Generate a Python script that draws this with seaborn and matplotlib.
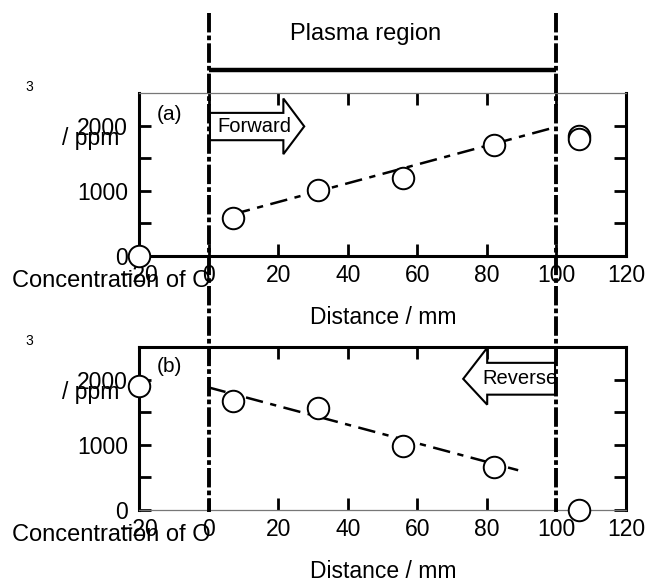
import matplotlib
matplotlib.use("Agg")
import matplotlib.pyplot as plt
import matplotlib.transforms as mtrans
from matplotlib.patches import Polygon
from matplotlib.lines import Line2D
import seaborn as sns

# ---------------- data ----------------
distance_fwd = [-20, 7, 31.5, 56, 82, 106.5, 106.5]
conc_fwd = [0, 580, 1010, 1190, 1700, 1845, 1795]
distance_rev = [-20, 7, 31.5, 56, 82, 106.5]
conc_rev = [1900, 1670, 1560, 975, 665, 0]
fit_fwd_x = [7, 100]
fit_fwd_y = [640, 1980]
fit_rev_x = [0, 89]
fit_rev_y = [1880, 610]
x_ticks = [-20, 0, 20, 40, 60, 80, 100, 120]
y_ticks = [0, 1000, 2000]
y_minor = [500, 1500]
plasma_start, plasma_end = 0, 100

sns.set_theme(style="ticks")
plt.rcParams['font.family'] = ['Liberation Sans', 'DejaVu Sans']
plt.rcParams['text.color'] = 'black'
plt.rcParams['xtick.color'] = 'black'
plt.rcParams['ytick.color'] = 'black'
plt.rcParams['xtick.labelcolor'] = 'black'
plt.rcParams['ytick.labelcolor'] = 'black'

W, H = 647, 583
fig = plt.figure(figsize=(W / 100, H / 100), dpi=100)
ax1 = fig.add_axes([139 / W, 1 - 256 / H, 487 / W, 163 / H])
ax2 = fig.add_axes([139 / W, 1 - 510 / H, 487 / W, 163 / H])


def style(ax, thin_side):
    ax.set_xlim(-20, 120)
    ax.set_ylim(0, 2500)
    ax.set_xticks(x_ticks)
    ax.set_yticks(y_ticks)
    ax.set_yticks(y_minor, minor=True)
    ax.tick_params(axis='both', which='both', direction='in', length=8.5,
                   width=2, top=True, right=True, colors='black',
                   labelcolor='black', labelsize=16.5)
    ax.tick_params(axis='x', pad=6)
    ax.tick_params(axis='y', pad=8)
    for s in ax.spines.values():
        s.set_linewidth(2.2)
        s.set_color('black')
    ax.spines[thin_side].set_linewidth(0.9)
    ax.spines[thin_side].set_color('#777777')
    ax.set_xlabel('')
    ax.set_ylabel('')
    ax.grid(False)
    ax.set_facecolor('none')
    for t in ax.xaxis.get_major_ticks():
        if t.get_loc() == 20:
            t.tick1line.set_markeredgewidth(0.9)
            t.tick2line.set_markeredgewidth(0.9)


style(ax1, 'top')
style(ax2, 'bottom')

dash_fit = (0, (7, 3, 2.5, 3))
for ax, fx, fy, px, py in [(ax1, fit_fwd_x, fit_fwd_y, distance_fwd, conc_fwd),
                           (ax2, fit_rev_x, fit_rev_y, distance_rev, conc_rev)]:
    sns.lineplot(x=fx, y=fy, ax=ax, color='black', lw=1.8,
                 linestyle=dash_fit, zorder=3)
    sns.scatterplot(x=px, y=py, ax=ax, s=240, marker='o', color='white',
                    edgecolor='black', linewidth=1.4, clip_on=False, zorder=6)

# panel letters
ax1.text(-14.8, 2175, '(a)', fontsize=15, ha='left', va='center')
ax2.text(-14.8, 2200, '(b)', fontsize=15, ha='left', va='center')

# arrows
fwd = Polygon([[0.4, 1776], [21.5, 1776], [21.5, 1562], [27.5, 1988],
               [21.5, 2415], [21.5, 2195], [0.4, 2195]], closed=True,
              facecolor='white', edgecolor='black', lw=1.5, zorder=4,
              clip_on=False)
ax1.add_patch(fwd)
ax1.text(13.3, 1990, 'Forward', fontsize=14.5, ha='center', va='center', zorder=5)

rev = Polygon([[99.6, 1769], [80.1, 1769], [80.1, 1615], [73.2, 2011],
               [80.1, 2488], [80.1, 2257], [99.6, 2257]], closed=True,
              facecolor='white', edgecolor='black', lw=1.5, zorder=4,
              clip_on=False)
ax2.add_patch(rev)
ax2.text(89.5, 2010, 'Reverse', fontsize=14.5, ha='center', va='center', zorder=5)

# plasma region markers spanning the figure
blend = mtrans.blended_transform_factory(ax1.transData, fig.transFigure)
for xv in [plasma_start, plasma_end]:
    fig.add_artist(Line2D([xv, xv], [1 - 13 / H, 1 - 512 / H], transform=blend,
                          color='black', lw=2.8, linestyle=(0, (5, 0.8, 1.2, 0.8)),
                          zorder=7))
fig.add_artist(Line2D([plasma_start, plasma_end], [1 - 70 / H, 1 - 70 / H],
                      transform=blend, color='black', lw=3.2,
                      solid_capstyle='butt', zorder=7))
fig.text(366 / W, 1 - 34 / H, 'Plasma region', fontsize=17,
         ha='center', va='center')

# axis labels (split pieces as in the original)
for top_px in [0, 254]:
    fig.text(383 / W, 1 - (top_px + 318) / H, 'Distance / mm', fontsize=16.5,
             ha='center', va='center')
    fig.text(12 / W, 1 - (top_px + 281) / H, 'Concentration of O',
             fontsize=17, ha='left', va='center')
    fig.text(29 / W, 1 - (top_px + 87) / H, '3', fontsize=10,
             ha='center', va='center')
    fig.text(62 / W, 1 - (top_px + 139) / H, '/ ppm', fontsize=16.5,
             ha='left', va='center')

fig.savefig('out.png', dpi=100, facecolor='white')
